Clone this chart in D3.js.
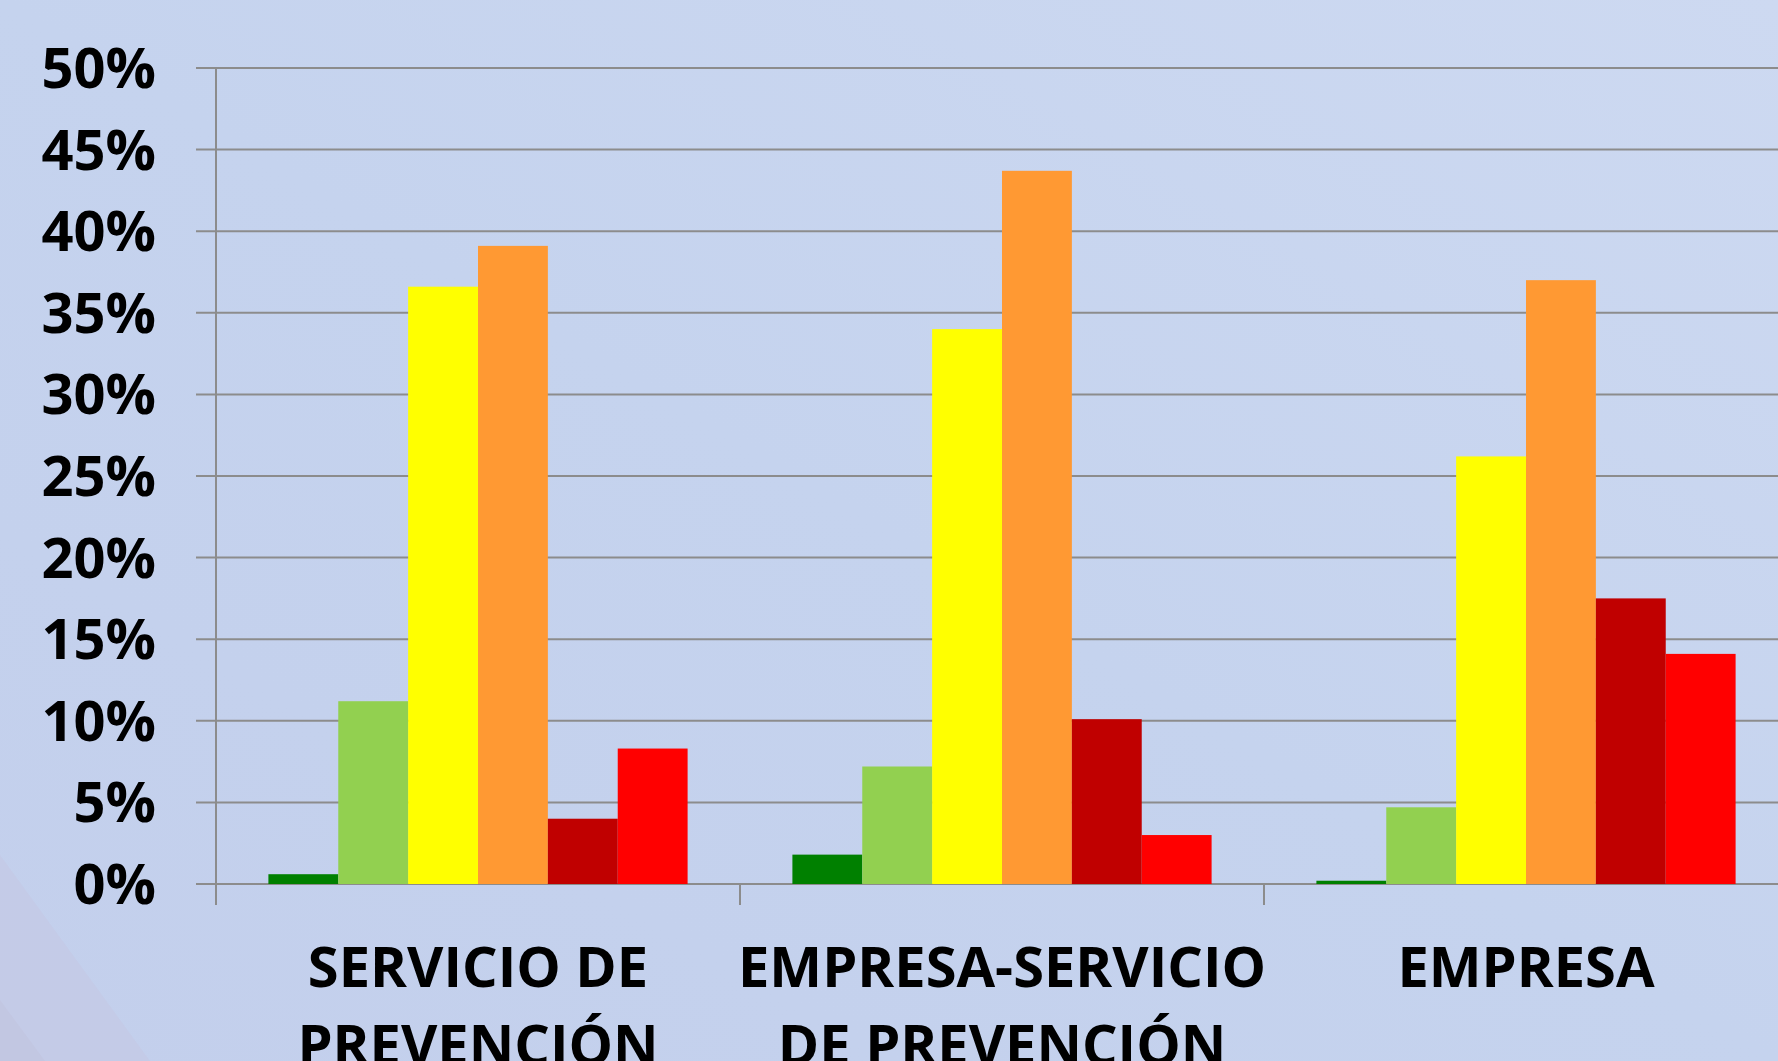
<!DOCTYPE html>
<html>
<head>
<meta charset="utf-8">
<script src="https://cdn.jsdelivr.net/npm/d3@7"></script>
<style>
  body { margin: 0; overflow: hidden; }
  text { font-family: "Open Sans", "Noto Sans", sans-serif; font-weight: bold; fill: #000; }
</style>
</head>
<body>
<div id="chart"></div>
<script>
// chart data
var categories = [["SERVICIO DE", "PREVENCIÓN"], ["EMPRESA-SERVICIO", "DE PREVENCIÓN"], ["EMPRESA"]];
var seriesNames = ["s1", "s2", "s3", "s4", "s5", "s6"];
var seriesColors = ["#008000", "#92D050", "#FFFF00", "#FF9933", "#C00000", "#FF0000"];
var s1 = [0.006, 0.018, 0.002];
var s2 = [0.112, 0.072, 0.047];
var s3 = [0.366, 0.340, 0.262];
var s4 = [0.391, 0.437, 0.370];
var s5 = [0.040, 0.101, 0.175];
var s6 = [0.083, 0.030, 0.141];
var yTicks = [0, 0.05, 0.1, 0.15, 0.2, 0.25, 0.3, 0.35, 0.4, 0.45, 0.5];

var seriesValues = [s1, s2, s3, s4, s5, s6];

var svgWidth = 1778;
var svgHeight = 1061;

var plot = { left: 216, top: 68, bottom: 884, bandWidth: 524 };

var svg = d3.select("#chart")
  .append("svg")
  .attr("width", svgWidth)
  .attr("height", svgHeight);

// background
var defs = svg.append("defs");
var grad = defs.append("linearGradient")
  .attr("id", "bg")
  .attr("x1", "0").attr("y1", "1")
  .attr("x2", "1").attr("y2", "0");
grad.append("stop").attr("offset", "0").attr("stop-color", "#C3CFEC");
grad.append("stop").attr("offset", "0.5").attr("stop-color", "#C5D3EE");
grad.append("stop").attr("offset", "1").attr("stop-color", "#CDD9F1");

svg.append("rect")
  .attr("width", svgWidth)
  .attr("height", svgHeight)
  .attr("fill", "url(#bg)");

// faint diagonal shading in the bottom left corner
svg.append("path")
  .attr("d", "M0,855 L150,1061 L0,1061 Z")
  .attr("fill", "#C4C8E4")
  .attr("opacity", 0.6);
svg.append("path")
  .attr("d", "M0,1000 L45,1061 L0,1061 Z")
  .attr("fill", "#C2C4E0")
  .attr("opacity", 0.7);

// scales
var x0 = d3.scaleBand()
  .domain(d3.range(categories.length))
  .range([plot.left, plot.left + plot.bandWidth * categories.length]);

var x1 = d3.scaleBand()
  .domain(seriesNames)
  .range([0, x0.bandwidth()])
  .paddingOuter(0.75);

var y = d3.scaleLinear()
  .domain([0, 0.5])
  .range([plot.bottom, plot.top]);

// gridlines
svg.append("g")
  .selectAll("line")
  .data(yTicks)
  .enter()
  .append("line")
  .attr("x1", plot.left - 20)
  .attr("x2", svgWidth)
  .attr("y1", d => y(d))
  .attr("y2", d => y(d))
  .attr("stroke", "#8C8C8C")
  .attr("stroke-width", 2);

// y axis line and category ticks
svg.append("line")
  .attr("x1", plot.left).attr("x2", plot.left)
  .attr("y1", y(0.5)).attr("y2", plot.bottom + 21)
  .attr("stroke", "#8C8C8C")
  .attr("stroke-width", 2);

svg.append("g")
  .selectAll("line")
  .data(d3.range(1, categories.length))
  .enter()
  .append("line")
  .attr("x1", d => x0(d))
  .attr("x2", d => x0(d))
  .attr("y1", plot.bottom)
  .attr("y2", plot.bottom + 21)
  .attr("stroke", "#8C8C8C")
  .attr("stroke-width", 2);

// bars
var groups = svg.append("g")
  .selectAll("g")
  .data(categories)
  .enter()
  .append("g")
  .attr("transform", (d, i) => `translate(${x0(i)},0)`);

groups.selectAll("rect")
  .data((d, i) => seriesNames.map((s, j) => ({ key: s, value: seriesValues[j][i], color: seriesColors[j] })))
  .enter()
  .append("rect")
  .attr("x", d => x1(d.key))
  .attr("width", x1.bandwidth())
  .attr("y", d => y(d.value))
  .attr("height", d => y(0) - y(d.value))
  .attr("fill", d => d.color);

// y tick labels
svg.append("g")
  .selectAll("text")
  .data(yTicks)
  .enter()
  .append("text")
  .attr("x", 156)
  .attr("y", d => y(d) + 20)
  .attr("text-anchor", "end")
  .attr("font-size", "56px")
  .text(d => d3.format(".0%")(d));

// category labels
var catLabels = svg.append("g")
  .selectAll("text")
  .data(categories)
  .enter()
  .append("text")
  .attr("x", (d, i) => x0(i) + x0.bandwidth() / 2)
  .attr("y", 987)
  .attr("text-anchor", "middle")
  .attr("font-size", "56px");

catLabels.selectAll("tspan")
  .data(d => d)
  .enter()
  .append("tspan")
  .attr("x", function() { return d3.select(this.parentNode).attr("x"); })
  .attr("dy", (d, i) => i === 0 ? 0 : 78)
  .text(d => d);
</script>
</body>
</html>
